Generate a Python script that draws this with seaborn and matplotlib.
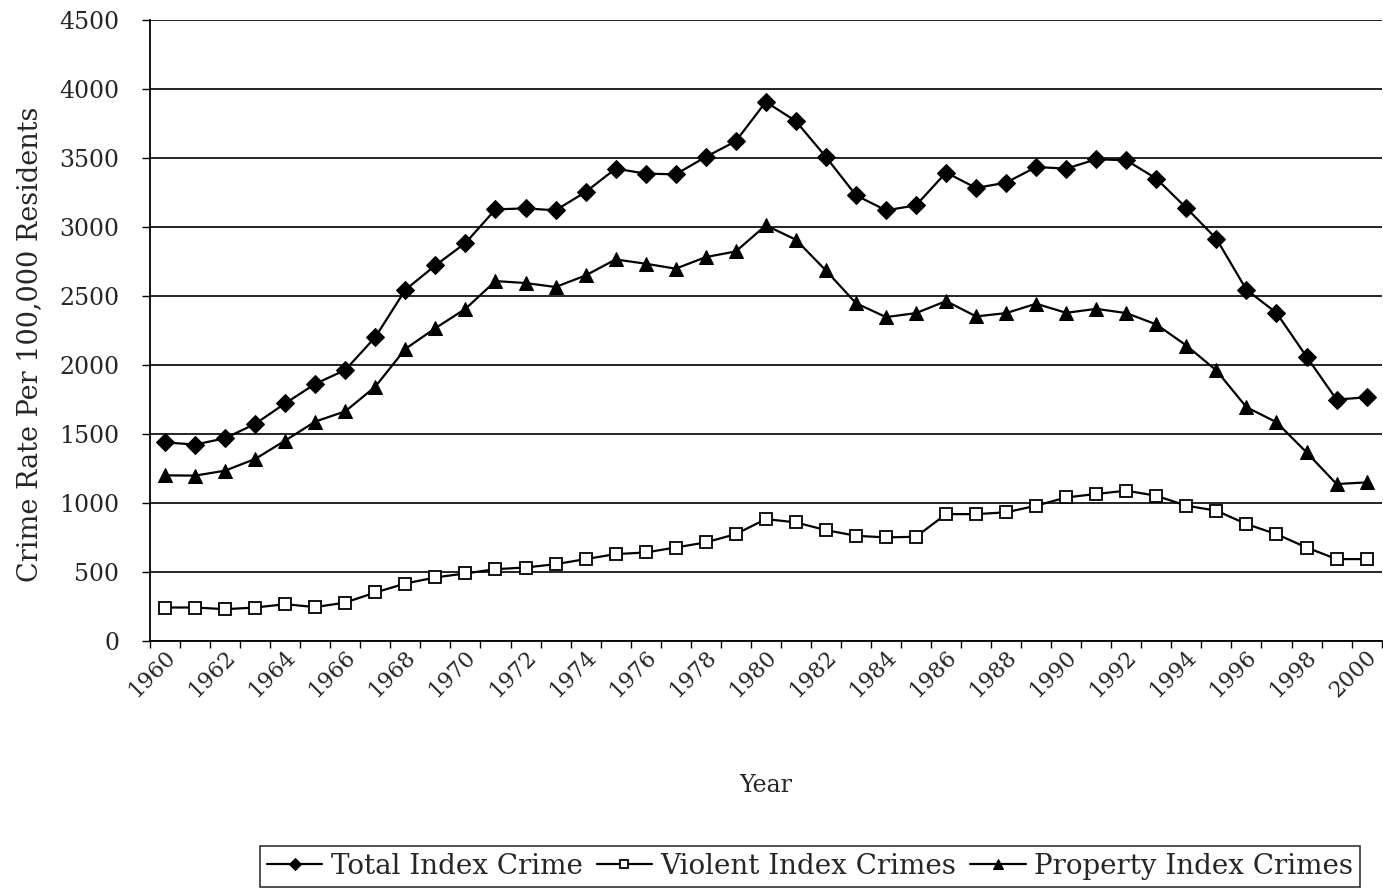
import numpy as np
import pandas as pd
import matplotlib
matplotlib.use("Agg")
import matplotlib.pyplot as plt
import matplotlib.transforms as mtransforms
import seaborn as sns

years = list(range(1960, 2001))
total_index = [1439, 1423, 1469, 1573, 1722, 1863, 1964, 2202, 2545, 2722,
               2884, 3128, 3135, 3121, 3254, 3423, 3387, 3382, 3508, 3622,
               3907, 3767, 3508, 3230, 3121, 3157, 3395, 3283, 3322, 3435,
               3423, 3491, 3484, 3351, 3138, 2915, 2545, 2378, 2061, 1749,
               1766]
violent_index = [242, 242, 230, 242, 266, 245, 278, 351, 416, 460,
                 489, 520, 532, 556, 593, 629, 641, 677, 714, 774,
                 883, 859, 803, 762, 750, 755, 919, 919, 932, 980,
                 1040, 1065, 1089, 1052, 980, 944, 847, 774, 677, 593,
                 593]
property_index = [1200, 1198, 1234, 1319, 1452, 1590, 1664, 1843, 2117, 2267,
                  2407, 2608, 2594, 2565, 2649, 2765, 2734, 2698, 2782, 2823,
                  3012, 2908, 2685, 2448, 2347, 2376, 2463, 2352, 2376, 2444,
                  2378, 2407, 2376, 2294, 2141, 1960, 1694, 1585, 1367, 1137,
                  1149]
series_names = ["Total Index Crime", "Violent Index Crimes", "Property Index Crimes"]
y_ticks = list(range(0, 4501, 500))
x_tick_years = list(range(1960, 2001, 2))

sns.set_theme(style="white")
plt.rcParams["font.family"] = ["DejaVu Serif"]

fig = plt.figure(figsize=(13.83, 8.92), dpi=100)
ax = fig.add_axes([0.1085, 0.2815, 0.8905, 0.6960])

for yv in y_ticks:
    ax.axhline(yv, color="black", lw=1.2, zorder=1)

df = pd.DataFrame({"Year": years, series_names[0]: total_index,
                   series_names[1]: violent_index, series_names[2]: property_index})

styles = {
    series_names[0]: dict(marker="D", markersize=9, markerfacecolor="black", markeredgecolor="black"),
    series_names[1]: dict(marker="s", markersize=9, markerfacecolor="white", markeredgecolor="black", markeredgewidth=1.3),
    series_names[2]: dict(marker="^", markersize=10, markerfacecolor="black", markeredgecolor="black"),
}
for name in series_names:
    sns.lineplot(data=df, x="Year", y=name, ax=ax, color="black", lw=1.6,
                 label=name, zorder=3, **styles[name])

ax.set_xlim(1959.5, 2000.5)
ax.set_ylim(0, 4500)
ax.set_yticks(y_ticks)
ax.set_yticklabels([str(v) for v in y_ticks], fontsize=17)
ax.set_xticks(x_tick_years)
ax.set_xticklabels([str(v) for v in x_tick_years], fontsize=16, rotation=45,
                   ha="right", va="center", rotation_mode="anchor")
ax.tick_params(axis="x", which="major", length=0, pad=9)
ax.set_xticks(np.arange(1959.5, 2001, 1.0), minor=True)
ax.tick_params(axis="x", which="minor", length=5, width=1, color="black", direction="out", bottom=True)
ax.tick_params(axis="y", which="major", length=6, width=1, color="black", direction="out", left=True, pad=16)

for s in ["top", "right"]:
    ax.spines[s].set_visible(False)
for s in ["left", "bottom"]:
    ax.spines[s].set_color("black")
    ax.spines[s].set_linewidth(1.3)

ax.set_xlabel("Year", fontsize=17)
ax.xaxis.set_label_coords(0.5, -0.214)
ax.set_ylabel("Crime Rate Per 100,000 Residents", fontsize=19.5)
ax.yaxis.set_label_coords(-0.087, 0.477)

ax.get_legend().remove()
handles, labels = ax.get_legend_handles_labels()
leg = fig.legend(handles, labels, loc="center", bbox_to_anchor=(0.5857, 0.029), ncol=3,
                 fontsize=20, frameon=True, fancybox=False, edgecolor="black",
                 handlelength=2.0, handletextpad=0.3, columnspacing=0.5, borderpad=0.25,
                 markerscale=0.7)
leg.get_frame().set_linewidth(1.2)

fig.canvas.draw()
offset = mtransforms.ScaledTranslation(7 / 100, 0, fig.dpi_scale_trans)
for lbl in ax.get_xticklabels():
    lbl.set_transform(lbl.get_transform() + offset)

fig.savefig("out.png", dpi=100)
